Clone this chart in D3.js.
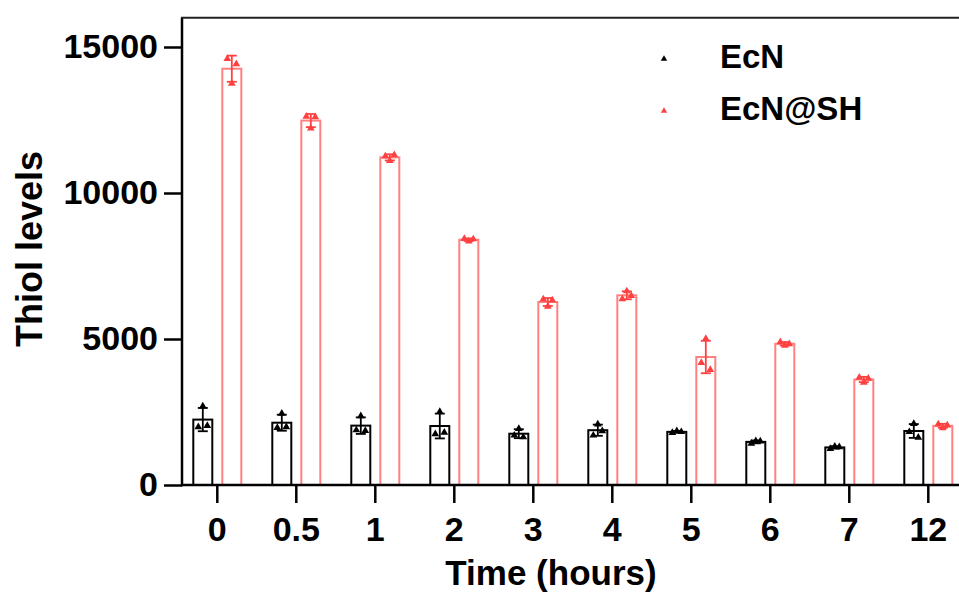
<!DOCTYPE html>
<html>
<head>
<meta charset="utf-8">
<script src="https://cdn.jsdelivr.net/npm/d3@7"></script>
<style>
  body { margin: 0; background: #fff; }
  text { font-family: "Liberation Sans", Arial, sans-serif; font-weight: bold; }
</style>
</head>
<body>
<div id="chart"></div>
<script>
// time points (hours)
const times = ["0", "0.5", "1", "2", "3", "4", "5", "6", "7", "12"];
const series = ["EcN", "EcN@SH"];

// three replicates per time point
const ecn = [
  [1990, 2700, 2030],
  [1960, 2450, 1990],
  [1880, 2360, 1860],
  [1750, 2510, 1800],
  [1700, 1930, 1640],
  [1700, 2080, 1850],
  [1790, 1850, 1820],
  [1420, 1510, 1500],
  [1240, 1320, 1300],
  [1820, 2100, 1630],
];
const ecnSH = [
  [14600, 13750, 14420],
  [12620, 12220, 12600],
  [11260, 11100, 11300],
  [8430, 8350, 8420],
  [6360, 6110, 6330],
  [6370, 6640, 6480],
  [4190, 5010, 3950],
  [4900, 4780, 4830],
  [3680, 3510, 3650],
  [2080, 1950, 2050],
];
const yTicks = [0, 5000, 10000, 15000];

const barColor = { "EcN": "#000", "EcN@SH": "#ff8080" };
const markColor = { "EcN": "#000", "EcN@SH": "#ff4040" };

const width = 959, height = 592;
const svg = d3.select("#chart").append("svg")
  .attr("width", width).attr("height", height);

const x = d3.scaleBand().domain(times).range([177.8, 967.8]);
const xSub = d3.scaleBand().domain(series).range([-24, 24]).paddingInner(0.345);
const y = d3.scaleLinear().domain([0, 16000]).range([485, 17.8]);

const rows = [];
times.forEach((t, i) => {
  [[series[0], ecn[i]], [series[1], ecnSH[i]]].forEach(([s, vals]) => {
    rows.push({ t, s, vals, mean: d3.mean(vals), sd: d3.deviation(vals) });
  });
});

const cx = d => x(d.t) + x.bandwidth() / 2 + xSub(d.s) + xSub.bandwidth() / 2;

// bars
svg.append("g").selectAll("rect").data(rows).join("rect")
  .attr("x", d => cx(d) - xSub.bandwidth() / 2)
  .attr("y", d => y(d.mean))
  .attr("width", xSub.bandwidth())
  .attr("height", d => y(0) - y(d.mean))
  .attr("fill", "none")
  .attr("stroke", d => barColor[d.s])
  .attr("stroke-width", 2);

// error bars (SD)
const err = svg.append("g").selectAll("g").data(rows).join("g")
  .attr("stroke", d => markColor[d.s])
  .attr("stroke-width", 1.8);
err.append("line")
  .attr("x1", cx).attr("x2", cx)
  .attr("y1", d => y(d.mean + d.sd)).attr("y2", d => y(d.mean - d.sd));
err.append("line")
  .attr("x1", d => cx(d) - 5).attr("x2", d => cx(d) + 5)
  .attr("y1", d => y(d.mean + d.sd)).attr("y2", d => y(d.mean + d.sd));
err.append("line")
  .attr("x1", d => cx(d) - 5).attr("x2", d => cx(d) + 5)
  .attr("y1", d => y(d.mean - d.sd)).attr("y2", d => y(d.mean - d.sd));

// replicate points
const tri = d3.symbol().type(d3.symbolTriangle).size(26);
const jitter = [-4.5, 0, 4.5];
svg.append("g").selectAll("g").data(rows).join("g")
  .attr("fill", d => markColor[d.s])
  .selectAll("path").data(d => d.vals.map((v, k) => ({ d, v, k }))).join("path")
  .attr("d", tri)
  .attr("transform", p => `translate(${cx(p.d) + jitter[p.k]},${y(p.v)})`);

// axes
const yAxis = svg.append("g")
  .attr("transform", "translate(182,0)")
  .call(d3.axisLeft(y).tickValues(yTicks).tickSize(18).tickPadding(6).tickFormat(d3.format("d")));
yAxis.select(".domain").remove();
yAxis.selectAll("line").attr("stroke", "#000").attr("stroke-width", 2.5);
yAxis.selectAll("text").attr("font-size", 34).attr("fill", "#000");

const xAxis = svg.append("g")
  .attr("transform", "translate(0,485)")
  .call(d3.axisBottom(x).tickSize(18).tickPadding(14));
xAxis.select(".domain").remove();
xAxis.selectAll("line").attr("stroke", "#000").attr("stroke-width", 2.5);
xAxis.selectAll("text").attr("font-size", 34).attr("fill", "#000");

// frame lines
svg.append("line").attr("x1", 182).attr("x2", 182).attr("y1", y(16000)).attr("y2", y(0) + 1.25)
  .attr("stroke", "#000").attr("stroke-width", 2.5);
svg.append("line").attr("x1", 181).attr("x2", width).attr("y1", y(0)).attr("y2", y(0))
  .attr("stroke", "#000").attr("stroke-width", 2.5);
svg.append("line").attr("x1", 181).attr("x2", width).attr("y1", y(16000)).attr("y2", y(16000))
  .attr("stroke", "#222").attr("stroke-width", 2);

// axis titles
svg.append("text")
  .attr("transform", "translate(42,249) rotate(-90)")
  .attr("text-anchor", "middle")
  .attr("font-size", 36)
  .text("Thiol levels");
svg.append("text")
  .attr("x", 551).attr("y", 585)
  .attr("text-anchor", "middle")
  .attr("font-size", 35)
  .text("Time (hours)");

// legend
const leg = svg.append("g").selectAll("g").data(series).join("g")
  .attr("transform", (d, i) => `translate(664,${59 + i * 52})`);
leg.append("path")
  .attr("d", d3.symbol().type(d3.symbolTriangle).size(18))
  .attr("fill", d => markColor[d]);
leg.append("text")
  .attr("x", 56).attr("y", 9)
  .attr("font-size", 33)
  .text(d => d);
</script>
</body>
</html>
